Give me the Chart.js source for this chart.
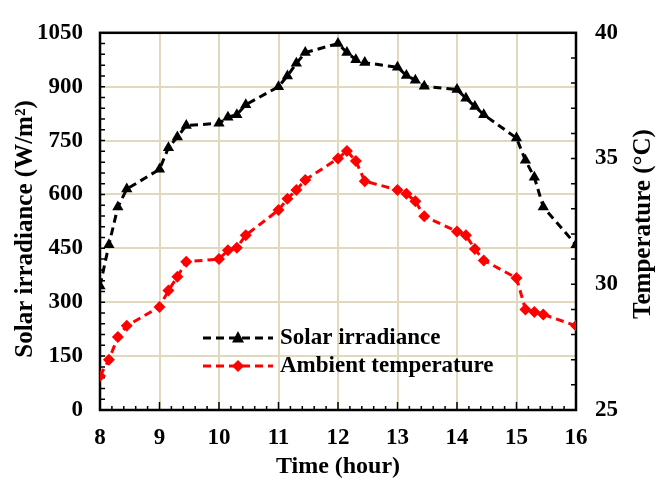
<!DOCTYPE html>
<html>
<head>
<meta charset="utf-8">
<script src="https://cdn.jsdelivr.net/npm/chart.js@4.4.1/dist/chart.umd.min.js"></script>
<style>
  body { margin: 0; background: #fff; }
  #wrap { width: 666px; height: 481px; }
</style>
</head>
<body>
<div id="wrap"><canvas id="myChart" width="666" height="481"></canvas></div>
<script>
// time of day (hour)
const hours = [8, 8.15, 8.3, 8.45, 9, 9.15, 9.3, 9.45, 10, 10.15, 10.3, 10.45,
  11, 11.15, 11.3, 11.45, 12, 12.15, 12.3, 12.45, 13, 13.15, 13.3, 13.45,
  14, 14.15, 14.3, 14.45, 15, 15.15, 15.3, 15.45, 16];
// solar irradiance (W/m2)
const irradiance = [345, 460, 565, 615, 670, 730, 760, 792, 798, 815, 822, 850,
  900, 930, 965, 995, 1020, 995, 975, 967, 954, 931, 918, 901,
  892, 868, 845, 822, 757, 695, 648, 565, 460];
// ambient temperature (C)
const temperature = [26.35, 27.0, 27.9, 28.35, 29.1, 29.75, 30.3, 30.9, 31.0, 31.35, 31.45, 31.95,
  32.95, 33.4, 33.75, 34.15, 35.0, 35.3, 34.9, 34.1, 33.75, 33.6, 33.3, 32.7,
  32.1, 31.95, 31.4, 30.95, 30.25, 29.0, 28.9, 28.8, 28.35];

const hourTicks = [8, 9, 10, 11, 12, 13, 14, 15, 16];
const irrTicks = [0, 150, 300, 450, 600, 750, 900, 1050];
const tempTicks = [25, 30, 35, 40];
const seriesNames = ['Solar irradiance', 'Ambient temperature'];

const serif = '"Liberation Serif", "Times New Roman", serif';
const gridColor = 'rgba(224, 217, 190, 1)';

// box, inward minor ticks, rotated axis titles and the legend
const decor = {
  id: 'decor',
  beforeDatasetsDraw(chart) {
    const { ctx, chartArea: a, scales } = chart;
    ctx.save();
    ctx.strokeStyle = '#000';
    ctx.lineWidth = 1.5;
    ctx.beginPath();
    for (let v = 0; v <= 1050; v += 30) {
      const y = scales.y.getPixelForValue(v);
      ctx.moveTo(a.left, y); ctx.lineTo(a.left + 5, y);
    }
    for (let v = 25; v <= 40; v += 1) {
      const y = scales.y1.getPixelForValue(v);
      ctx.moveTo(a.right, y); ctx.lineTo(a.right - 5, y);
    }
    for (let i = 0; i <= 40; i++) {
      const x = scales.x.getPixelForValue(8 + i * 0.2);
      ctx.moveTo(x, a.bottom); ctx.lineTo(x, a.bottom - (i % 5 === 0 ? 8 : 4));
    }
    ctx.stroke();
    ctx.lineWidth = 2.5;
    ctx.strokeRect(a.left, a.top, a.right - a.left, a.bottom - a.top);

    ctx.fillStyle = '#000';
    ctx.font = 'bold 25px ' + serif;
    ctx.textAlign = 'center';
    ctx.textBaseline = 'middle';
    ctx.save();
    ctx.translate(26, 229);
    ctx.rotate(-Math.PI / 2);
    ctx.fillText('Solar irradiance (W/m²)', 0, 0);
    ctx.restore();
    ctx.save();
    ctx.translate(644, 224);
    ctx.rotate(-Math.PI / 2);
    ctx.fillText('Temperature (°C)', 0, 0);
    ctx.restore();
    ctx.restore();
  },
  afterDatasetsDraw(chart) {
    const { ctx } = chart;
    const rows = [
      { y: 338, color: '#000', shape: 'tri' },
      { y: 366, color: '#ff0000', shape: 'dia' }
    ];
    ctx.save();
    rows.forEach((r, i) => {
      ctx.strokeStyle = r.color;
      ctx.fillStyle = r.color;
      ctx.lineWidth = 3;
      ctx.setLineDash([8, 5]);
      ctx.beginPath();
      ctx.moveTo(203, r.y); ctx.lineTo(273, r.y);
      ctx.stroke();
      ctx.setLineDash([]);
      ctx.beginPath();
      if (r.shape === 'tri') {
        ctx.moveTo(238, r.y - 7); ctx.lineTo(244, r.y + 4.5); ctx.lineTo(232, r.y + 4.5);
      } else {
        ctx.moveTo(238, r.y - 6); ctx.lineTo(244, r.y); ctx.lineTo(238, r.y + 6); ctx.lineTo(232, r.y);
      }
      ctx.closePath();
      ctx.fill();
      ctx.fillStyle = '#000';
      ctx.font = 'bold 23px ' + serif;
      ctx.textAlign = 'left';
      ctx.textBaseline = 'middle';
      ctx.fillText(seriesNames[i], 280, r.y);
    });
    ctx.restore();
  }
};

const tickFont = { size: 23, weight: 'bold', family: serif };

const ctx = document.getElementById('myChart').getContext('2d');
const myChart = new Chart(ctx, {
  type: 'line',
  data: {
    datasets: [{
      label: seriesNames[0],
      data: hours.map((h, i) => ({ x: h, y: irradiance[i] })),
      yAxisID: 'y',
      borderColor: '#000',
      backgroundColor: '#000',
      borderWidth: 3,
      borderDash: [8, 5],
      pointStyle: 'triangle',
      pointRadius: 6.5,
      pointBorderWidth: 0,
      tension: 0
    },
    {
      label: seriesNames[1],
      data: hours.map((h, i) => ({ x: h, y: temperature[i] })),
      yAxisID: 'y1',
      borderColor: '#ff0000',
      backgroundColor: '#ff0000',
      borderWidth: 3,
      borderDash: [8, 5],
      pointStyle: 'rectRot',
      pointRadius: 6,
      pointBorderWidth: 0,
      tension: 0
    }]
  },
  options: {
    responsive: false,
    animation: false,
    layout: { padding: { top: 21, left: 0, right: 0, bottom: 0 } },
    plugins: {
      legend: { display: false },
      tooltip: { enabled: false }
    },
    scales: {
      x: {
        type: 'linear',
        min: 8,
        max: 16,
        afterFit: s => { s.height = 71; },
        afterBuildTicks: s => { s.ticks = hourTicks.map(v => ({ value: v })); },
        border: { display: false },
        grid: {
          drawTicks: false,
          color: c => (c.tick && (c.tick.value === 8 || c.tick.value === 16)) ? 'rgba(0,0,0,0)' : gridColor,
          lineWidth: 2
        },
        ticks: {
          color: '#000',
          padding: 14,
          maxRotation: 0,
          callback: v => String(v),
          font: tickFont
        },
        title: {
          display: true,
          text: 'Time (hour)',
          color: '#000',
          padding: { top: 0, bottom: 0 },
          font: { size: 24, weight: 'bold', family: serif }
        }
      },
      y: {
        position: 'left',
        min: 0,
        max: 1050,
        afterFit: s => { s.width = 100; },
        afterBuildTicks: s => { s.ticks = irrTicks.map(v => ({ value: v })); },
        border: { display: false },
        grid: {
          drawTicks: false,
          color: c => (c.tick && (c.tick.value === 0 || c.tick.value === 1050)) ? 'rgba(0,0,0,0)' : gridColor,
          lineWidth: 2
        },
        ticks: {
          color: '#000',
          padding: 17,
          callback: v => String(v),
          font: tickFont
        }
      },
      y1: {
        position: 'right',
        min: 25,
        max: 40,
        afterFit: s => { s.width = 90; },
        afterBuildTicks: s => { s.ticks = tempTicks.map(v => ({ value: v })); },
        border: { display: false },
        grid: { display: false, drawTicks: false },
        ticks: {
          color: '#000',
          padding: 19,
          callback: v => String(v),
          font: tickFont
        }
      }
    }
  },
  plugins: [decor]
});
</script>
</body>
</html>
